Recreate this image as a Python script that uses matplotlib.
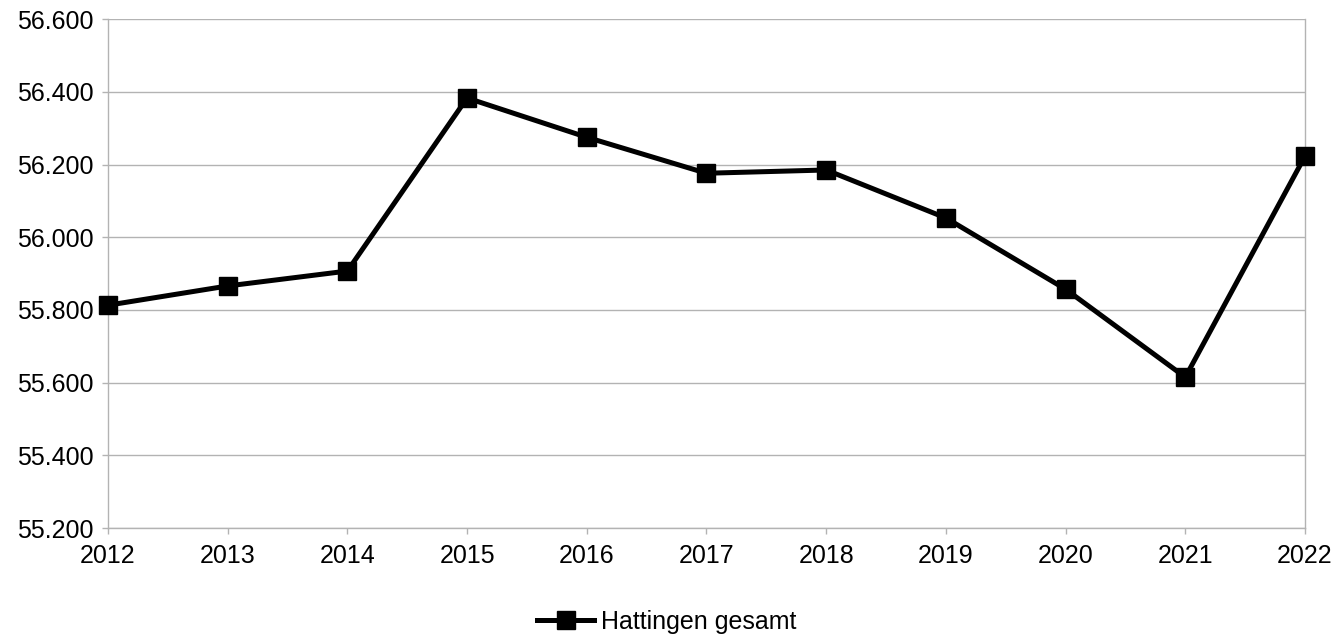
import matplotlib
matplotlib.use("Agg")
import matplotlib.pyplot as plt
from matplotlib.ticker import FuncFormatter

plt.rcParams['font.family'] = ['Liberation Sans', 'DejaVu Sans']

years = [2012, 2013, 2014, 2015, 2016, 2017, 2018, 2019, 2020, 2021, 2022]
values = [55813, 55866, 55907, 56383, 56275, 56176, 56185, 56053, 55857, 55615, 56223]
series_name = "Hattingen gesamt"
y_ticks = [55200, 55400, 55600, 55800, 56000, 56200, 56400, 56600]

fig = plt.figure(figsize=(13.33, 6.37), dpi=100)
ax = fig.add_axes([0.081, 0.171, 0.898, 0.799])

grid_c = '#b3b3b3'
ax.plot(years, values, color='black', lw=3.6, marker='s', markersize=13,
        label=series_name, clip_on=False, zorder=3)

ax.set_xlim(years[0], years[-1])
ax.set_ylim(y_ticks[0], y_ticks[-1])
ax.set_xticks(years)
ax.set_yticks(y_ticks)
ax.yaxis.set_major_formatter(FuncFormatter(lambda v, p: f"{int(v):,}".replace(",", ".")))
ax.grid(axis='y', color=grid_c, lw=1)
ax.set_axisbelow(True)
for s in ['left', 'bottom', 'right']:
    ax.spines[s].set_color(grid_c)
    ax.spines[s].set_linewidth(1)
ax.spines['top'].set_visible(False)
ax.tick_params(axis='both', colors=grid_c, labelcolor='black', labelsize=18,
               length=4.5, width=1, direction='out')
ax.tick_params(axis='x', pad=7)
ax.tick_params(axis='y', pad=6)

fig.legend(loc='center', bbox_to_anchor=(0.5, 0.024), frameon=False,
           fontsize=18, handlelength=2.3, handletextpad=0.25)

fig.savefig("out.png", dpi=100)
